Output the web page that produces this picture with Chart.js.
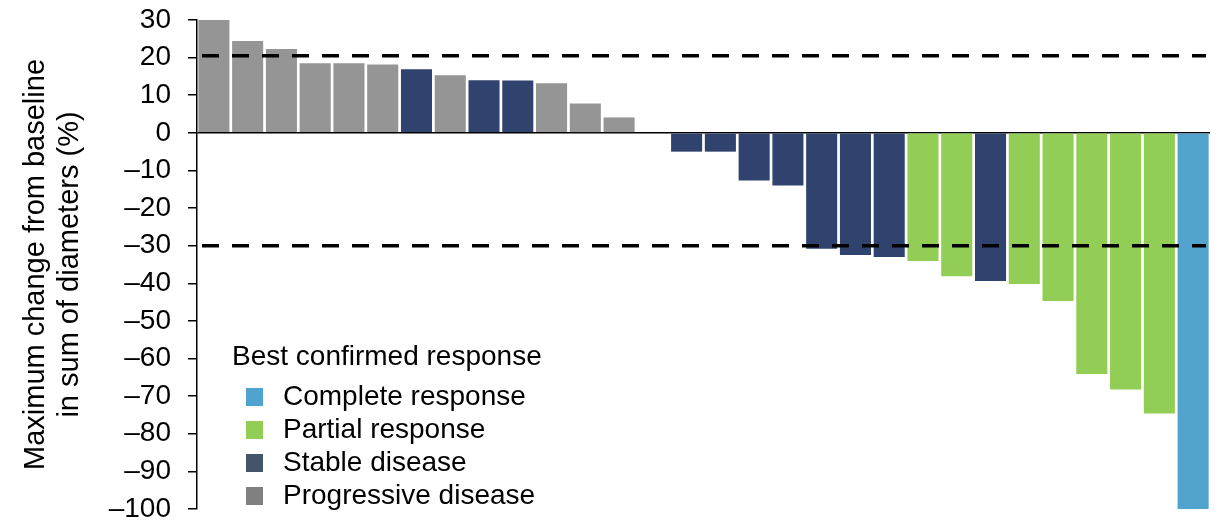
<!DOCTYPE html>
<html>
<head>
<meta charset="utf-8">
<script src="https://cdn.jsdelivr.net/npm/chart.js@4"></script>
<style>
  html, body { margin: 0; background: #fff; }
  canvas { display: block; }
</style>
</head>
<body>
<canvas id="waterfall" width="1220" height="520"></canvas>
<script>
// one bar per patient, sorted by best change
const patients = ['P1', 'P2', 'P3', 'P4', 'P5', 'P6', 'P7', 'P8', 'P9', 'P10',
                  'P11', 'P12', 'P13', 'P14', 'P15', 'P16', 'P17', 'P18', 'P19', 'P20',
                  'P21', 'P22', 'P23', 'P24', 'P25', 'P26', 'P27', 'P28', 'P29', 'P30'];
const changes = [30, 24.4, 22.3, 18.5, 18.5, 18.2, 16.9, 15.3, 14.0, 13.9,
                 13.2, 7.8, 4.1, 0, -5.0, -5.0, -12.7, -14.0, -30.8, -32.5,
                 -33.0, -34.1, -38.1, -39.4, -40.2, -44.7, -64.1, -68.2, -74.6, -100];
const responses = ['PD', 'PD', 'PD', 'PD', 'PD', 'PD', 'SD', 'PD', 'SD', 'SD',
                   'PD', 'PD', 'PD', 'SD', 'SD', 'SD', 'SD', 'SD', 'SD', 'SD',
                   'SD', 'PR', 'PR', 'SD', 'PR', 'PR', 'PR', 'PR', 'PR', 'CR'];
const refLines = [20.5, -30];
const yTicks = [30, 20, 10, 0, -10, -20, -30, -40, -50, -60, -70, -80, -90, -100];

const legendTitle = 'Best confirmed response';
const legendCodes = ['CR', 'PR', 'SD', 'PD'];
const legendLabels = ['Complete response', 'Partial response', 'Stable disease', 'Progressive disease'];

const barColors = { CR: '#52a4ce', PR: '#92cd55', SD: '#2f436e', PD: '#959595' };
const keyColors = { CR: '#4fa3cf', PR: '#92cd55', SD: '#44546a', PD: '#808080' };

const FONT = "'Liberation Sans', Arial, sans-serif";

document.addEventListener('DOMContentLoaded', () => {
    const ctx = document.getElementById('waterfall').getContext('2d');

    // dashed threshold lines over the bars
    const thresholdLines = {
        id: 'thresholdLines',
        afterDatasetsDraw(chart) {
            const { ctx, chartArea, scales } = chart;
            ctx.save();
            ctx.strokeStyle = '#000';
            ctx.lineWidth = 3.5;
            ctx.setLineDash([17, 13]);
            refLines.forEach(v => {
                const y = scales.y.getPixelForValue(v);
                ctx.beginPath();
                ctx.moveTo(chartArea.left + 5, y);
                ctx.lineTo(chartArea.right - 4, y);
                ctx.stroke();
            });
            ctx.restore();
        }
    };

    // legend box in the lower left of the plot
    const responseKey = {
        id: 'responseKey',
        afterDraw(chart) {
            const c = chart.ctx;
            c.save();
            c.fillStyle = '#000';
            c.font = `28px ${FONT}`;
            c.textBaseline = 'middle';
            c.fillText(legendTitle, 232, 357);
            legendCodes.forEach((code, i) => {
                const y = 397 + i * 33;
                c.fillStyle = keyColors[code];
                c.fillRect(246, y - 9, 17, 18);
                c.fillStyle = '#000';
                c.fillText(legendLabels[i], 283, y);
            });
            c.restore();
        }
    };

    new Chart(ctx, {
        type: 'bar',
        data: {
            labels: patients,
            datasets: [{
                data: changes,
                backgroundColor: responses.map(r => barColors[r]),
                borderWidth: 0,
                barPercentage: 0.92,
                categoryPercentage: 1.0
            }]
        },
        options: {
            responsive: false,
            animation: false,
            layout: { padding: { top: 20, bottom: 11, right: 10, left: 0 } },
            plugins: {
                legend: { display: false },
                tooltip: { enabled: false }
            },
            scales: {
                x: { display: false },
                y: {
                    min: -100,
                    max: 30,
                    afterBuildTicks: scale => { scale.ticks = yTicks.map(v => ({ value: v })); },
                    afterFit: scale => {
                        scale.width = 197;
                        scale.paddingTop = 0;
                        scale.paddingBottom = 0;
                    },
                    ticks: {
                        color: '#000',
                        padding: 17,
                        font: { family: FONT, size: 28 },
                        callback: v => (v < 0 ? '\u2013' + Math.abs(v) : String(v))
                    },
                    grid: {
                        color: c => (c.tick && c.tick.value === 0 ? '#000' : 'rgba(0,0,0,0)'),
                        lineWidth: 1.5,
                        tickLength: 9,
                        tickColor: '#000',
                        tickWidth: 1.5
                    },
                    border: { color: '#000', width: 1.5 },
                    title: {
                        display: true,
                        text: ['Maximum change from baseline', 'in sum of diameters (%)'],
                        color: '#000',
                        font: { family: FONT, size: 29, lineHeight: 1.17 },
                        padding: { top: 19, bottom: 0 }
                    }
                }
            }
        },
        plugins: [thresholdLines, responseKey]
    });
});
</script>
</body>
</html>
